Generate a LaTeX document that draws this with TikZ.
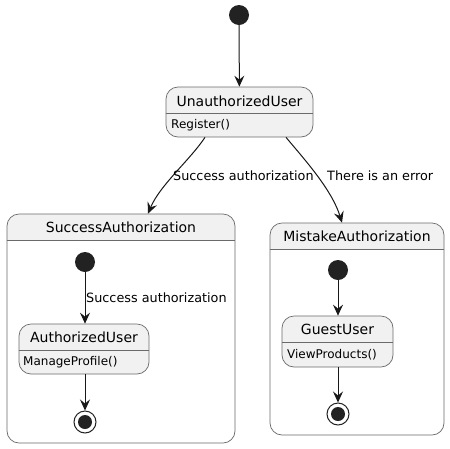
\documentclass[tikz,border=0pt]{standalone}
\usepackage{fontspec}
\setmainfont{DejaVu Sans}
\usetikzlibrary{arrows.meta}
\definecolor{stfill}{HTML}{F1F1F1}
\definecolor{stline}{HTML}{181818}
\definecolor{bdline}{HTML}{6A6A6A}
\definecolor{dot}{HTML}{222222}
\tikzset{
  stbox/.style={draw=bdline, line width=0.7pt, fill=stfill, rounded corners=12pt, inner sep=0pt},
  cbox/.style={draw=bdline, line width=0.7pt, rounded corners=12pt, inner sep=0pt},
  divl/.style={draw=bdline, line width=0.7pt},
  ttl/.style={font=\fontsize{14}{16}\selectfont, inner sep=0pt, text=black},
  dsc/.style={font=\fontsize{12}{14}\selectfont, inner sep=0pt, anchor=west, text=black},
  lbl/.style={font=\fontsize{12.8}{15}\selectfont, inner sep=0pt, anchor=west, text=black},
  initst/.style={circle, fill=dot, minimum size=20pt, inner sep=0pt},
  finst/.style={circle, draw=dot, line width=1pt, fill=white, minimum size=22pt, inner sep=0pt},
  findot/.style={circle, fill=dot, minimum size=14pt, inner sep=0pt},
  tr/.style={draw=stline, line width=1pt, -{Stealth[length=11pt,width=10pt,inset=4pt]}},
}
\begin{document}
\begin{tikzpicture}[x=1pt,y=-1pt]
\useasboundingbox (0,0) rectangle (450,448);
\fill[white] (0,0) rectangle (450,448);
% top
\node[initst] (i0) at (239,15) {};
\node[stbox, minimum width=147pt, minimum height=50pt] (U) at (239.5,112) {};
\draw[divl] (U.west |- 0,113) -- (U.east |- 0,113);
\node[ttl] (Ut) at (239.5,101) {UnauthorizedUser};
\node[dsc] (Ud) at (171,125.5) {Register()};
\draw[tr] (i0) -- (U);
% Success composite
\begin{scope}
\clip (0,0) rectangle (450,240);
\fill[stfill, rounded corners=12pt] (7,214) rectangle (235,443);
\end{scope}
\node[cbox, minimum width=228pt, minimum height=229pt] (SA) at (121,328.5) {};
\draw[divl] (SA.west |- 0,240) -- (SA.east |- 0,240);
\node[ttl] (SAt) at (121,227.5) {SuccessAuthorization};
\node[initst] (i1) at (85,262) {};
\node[stbox, minimum width=130pt, minimum height=50pt] (AU) at (84,349) {};
\draw[divl] (AU.west |- 0,350.5) -- (AU.east |- 0,350.5);
\node[ttl] (AUt) at (84,337.5) {AuthorizedUser};
\node[dsc] (AUd) at (23,362.5) {ManageProfile()};
\node[finst] (f1) at (85,422) {};
\node[findot] (f1d) at (85,422) {};
\draw[tr] (i1) -- (AU.north -| i1);
\node[lbl] (l3) at (86,298) {Success authorization};
\draw[tr] (AU.south -| f1) -- (f1);
% Mistake composite
\begin{scope}
\clip (0,0) rectangle (450,249);
\fill[stfill, rounded corners=12pt] (270,223) rectangle (444,435);
\end{scope}
\node[cbox, minimum width=174pt, minimum height=212pt] (MA) at (357,329) {};
\draw[divl] (MA.west |- 0,249) -- (MA.east |- 0,249);
\node[ttl] (MAt) at (357,236) {MistakeAuthorization};
\node[initst] (i2) at (338,270) {};
\node[stbox, minimum width=111pt, minimum height=51pt] (GU) at (337.5,341.5) {};
\draw[divl] (GU.west |- 0,342) -- (GU.east |- 0,342);
\node[ttl] (GUt) at (337.5,329.5) {GuestUser};
\node[dsc] (GUd) at (287,354.5) {ViewProducts()};
\node[finst] (f2) at (338,414) {};
\node[findot] (f2d) at (338,414) {};
\draw[tr] (i2) -- (GU.north -| i2);
\draw[tr] (GU.south -| f2) -- (f2);
% transitions from UnauthorizedUser
\draw[tr] ([xshift=-34.5pt]U.south) .. controls (190,160) and (160,185) .. ([xshift=27pt]SA.north);
\draw[tr] ([xshift=46.5pt]U.south) .. controls (305,160) and (332,190) .. ([xshift=-15pt]MA.north);
\node[lbl] (l1) at (173,176) {Success authorization};
\node[lbl] (l2) at (327,176) {There is an error};
\end{tikzpicture}
\end{document}
